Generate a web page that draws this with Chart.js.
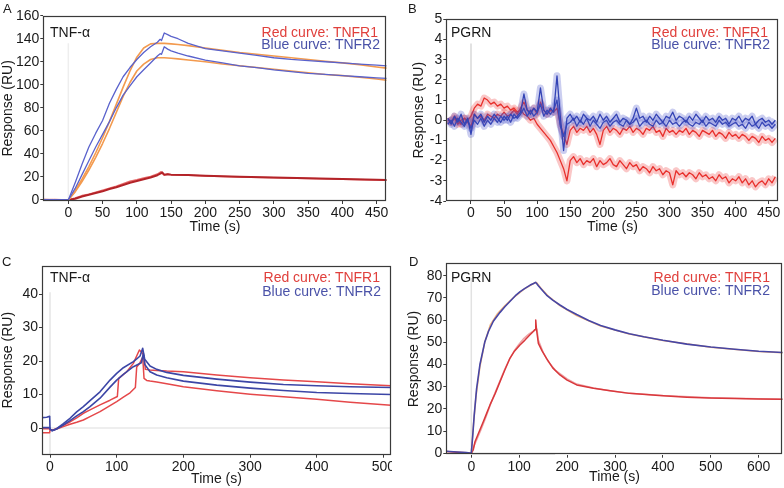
<!DOCTYPE html>
<html><head><meta charset="utf-8">
<script src="https://cdn.jsdelivr.net/npm/chart.js@4/dist/chart.umd.min.js"></script>
<style>
html,body{margin:0;padding:0;background:#fff;}
body{width:784px;height:488px;position:relative;overflow:hidden;font-family:"Liberation Sans",Arial,sans-serif;}
canvas{position:absolute;}
.t{position:absolute;font-size:14px;line-height:14px;white-space:nowrap;color:#1a1a1a;}
.lt{font-size:13px;}
.rr{text-align:right;}
.red{color:#e0403c;}
.blu{color:#4a52a8;}
</style></head><body>
<canvas id="cA" width="392" height="244" style="left:0;top:0"></canvas>
<canvas id="cB" width="392" height="244" style="left:392px;top:0"></canvas>
<canvas id="cC" width="392" height="244" style="left:0;top:244px"></canvas>
<canvas id="cD" width="392" height="244" style="left:392px;top:244px"></canvas>

<div class="t lt" style="left:3px;top:2px">A</div>
<div class="t lt" style="left:408px;top:2px">B</div>
<div class="t lt" style="left:2px;top:255px">C</div>
<div class="t lt" style="left:409px;top:255px">D</div>

<div class="t" style="left:50px;top:25px">TNF-α</div>
<div class="t" style="left:451px;top:25px">PGRN</div>
<div class="t" style="left:50px;top:270px">TNF-α</div>
<div class="t" style="left:451px;top:270px">PGRN</div>

<div class="t rr red" style="right:406px;top:25px">Red curve: TNFR1</div>
<div class="t rr blu" style="right:404px;top:37px">Blue curve: TNFR2</div>
<div class="t rr red" style="right:16px;top:25px">Red curve: TNFR1</div>
<div class="t rr blu" style="right:14px;top:37px">Blue curve: TNFR2</div>
<div class="t rr red" style="right:404px;top:270px">Red curve: TNFR1</div>
<div class="t rr blu" style="right:403px;top:284px">Blue curve: TNFR2</div>
<div class="t rr red" style="right:14px;top:270px">Red curve: TNFR1</div>
<div class="t rr blu" style="right:14px;top:283px">Blue curve: TNFR2</div>

<script>
// ---------- Panel A (TNF-α) ----------
const aXTicks = [0,50,100,150,200,250,300,350,400,450];
const aYTicks = [0,20,40,60,80,100,120,140,160];
const aBlueHi = [[-36.5,0],[-20,0.3],[-10,0],[0,0],[10,15],[20,31],[30,46],[40,58],[50,69],[60,84],[70,96],[80,107],[90,115],[100,122],[110,128],[120,133],[130,137],[134,139.5],[136,138.5],[140,145],[145,143.5],[150,142],[160,140],[175,136],[200,131.5],[225,129.5],[250,127.5],[275,125.5],[300,123.5],[325,122],[350,121],[375,120],[400,119],[425,118],[450,117],[464.6,116.5]];
const aBlueLo = [[-36.5,0],[-20,0],[-10,0.3],[0,0],[10,10],[20,22],[30,34],[40,46],[50,57],[60,68],[70,80],[80,91],[90,99],[100,107],[110,113],[120,119],[130,125],[134,127],[136,126.5],[140,133],[145,131],[150,129.5],[160,127.5],[175,125],[200,121.5],[225,119],[250,116.5],[275,115],[300,113],[325,111.5],[350,110],[375,109],[400,108],[425,107],[450,106],[464.6,105.5]];
const aOrangeHi = [[0,0],[10,8],[20,18],[30,29],[40,41],[50,54],[60,68],[70,83],[80,98],[90,112],[100,124],[110,132],[120,135.5],[130,136],[140,136],[150,135.5],[160,135],[175,134],[200,132],[225,130],[250,128],[275,126.5],[300,125],[325,123.5],[350,122],[375,120.5],[400,119],[425,117.5],[450,115.5],[464.6,114.5]];
const aOrangeLo = [[0,0],[10,7],[20,16],[30,26],[40,37],[50,49],[60,62],[70,76],[80,90],[90,102],[100,112],[110,118],[120,122],[130,123.5],[140,123.5],[150,123],[160,122.5],[175,121.5],[200,120],[225,118],[250,116.5],[275,115],[300,113.5],[325,112],[350,110.5],[375,109],[400,108],[425,106.5],[450,105],[464.6,104]];
const aRed1 = [[-36.5,0.2],[-20,0],[0,0],[10,1],[20,3],[30,4.5],[40,6],[50,7.5],[60,9.5],[70,11],[80,13],[90,15],[100,16.5],[110,18],[120,19.5],[130,21.5],[135,23],[137,24],[140,22],[145,22.3],[150,22],[175,21.6],[200,21],[250,20.2],[300,19.5],[350,18.8],[400,18.2],[450,17.6],[464.6,17.4]];
const aRed2 = [[-36.5,0],[-20,0.3],[0,0],[10,1.8],[20,3.8],[30,5],[40,6.8],[50,8.5],[60,10.2],[70,12],[80,14.2],[90,16.3],[100,17.5],[110,19],[120,20.5],[130,22.5],[135,24.5],[137,23],[140,21.5],[145,22.6],[150,21.8],[175,21.4],[200,20.8],[250,20],[300,19.3],[350,18.6],[400,18],[450,17.4],[464.6,17.2]];
const aInject = [[0,0],[0,136]];

// ---------- Panel B (PGRN) ----------
const bXTicks = [0,50,100,150,200,250,300,350,400,450];
const bYTicks = [-4,-3,-2,-1,0,1,2,3,4,5];
const bTime = [-35,-30,-25,-20,-15,-10,-5,0,5,10,
  15,20,25,30,35,40,45,50,55,60,
  65,70,75,80,85,90,95,100,105,110,
  115,120,125,130,135,140,145,150,155,160,
  165,170,175,180,185,190,195,200,205,210,
  215,220,225,230,235,240,245,250,255,260,
  265,270,275,280,285,290,295,300,305,310,
  315,320,325,330,335,340,345,350,355,360,
  365,370,375,380,385,390,395,400,405,410,
  415,420,425,430,435,440,445,450,455,460];
const bRed1 = [0.1,-0.1,0.2,0,-0.2,0.1,0,0.2,0.6,0.8,
  0.7,1.1,1.0,0.8,0.9,0.7,0.8,0.6,0.7,0.5,
  0.6,0.4,0.5,0.3,0.2,0.0,0.1,-0.2,-0.4,-0.6,
  -0.8,-1.0,-1.3,-1.6,-2.0,-2.4,-3.0,-2.0,-1.8,-2.1,
  -1.9,-2.2,-2.0,-2.1,-1.9,-2.3,-2.0,-2.2,-2.1,-1.9,
  -2.2,-2.3,-2.0,-2.2,-2.4,-2.1,-2.3,-2.2,-2.5,-2.3,
  -2.4,-2.6,-2.3,-2.5,-2.4,-2.7,-2.5,-2.6,-3.2,-2.5,
  -2.7,-2.6,-2.8,-2.6,-2.7,-2.9,-2.6,-2.8,-2.7,-2.9,
  -2.8,-3.0,-2.7,-2.9,-2.8,-3.1,-2.9,-3.0,-2.8,-3.1,
  -2.9,-3.2,-3.0,-3.3,-3.1,-3.0,-3.2,-2.9,-3.1,-2.8];
const bRed2 = [0,-0.1,0.1,-0.2,0,0.1,-0.1,-0.3,0.3,0.1,
  0.2,0.0,0.3,0.2,0.1,0.3,0.2,0.4,0.2,0.3,
  0.5,0.3,0.6,0.9,0.5,0.4,0.6,0.3,0.9,0.5,
  0.3,0.5,0.4,0.6,-0.2,-0.7,-1.2,-0.5,-0.3,-0.6,
  -0.4,-0.5,-0.3,-0.6,-0.4,-0.7,-1.2,-0.5,-0.3,-0.6,
  -0.4,-0.5,-0.7,-0.4,-0.5,-0.3,-0.6,-0.4,-0.5,-0.7,
  -0.4,-0.5,-0.3,-0.6,-0.5,-0.8,-0.4,-0.6,-0.5,-0.7,
  -0.5,-0.6,-0.4,-0.7,-0.5,-0.6,-0.8,-0.5,-0.6,-0.7,
  -0.5,-0.8,-0.6,-0.7,-0.9,-0.6,-0.8,-0.7,-0.9,-0.7,
  -0.8,-1.0,-0.8,-0.9,-1.1,-0.8,-1.0,-0.9,-1.1,-0.9];
const bBlue1 = [0.1,-0.2,0.2,-0.1,0.3,-0.2,0.1,-0.7,0.3,0.1,
  0.3,-0.1,0.2,0.0,0.3,0.1,-0.1,0.2,0.0,0.3,
  0.1,0.2,0.4,1.3,0.5,0.3,0.6,0.4,1.6,0.5,
  0.3,0.6,0.4,2.2,0.2,-1.5,0.1,0.3,0.0,0.2,
  -0.1,0.3,0.1,0.0,0.2,-0.1,0.3,0.0,0.2,-0.1,
  0.1,0.3,-0.1,0.1,0.0,-0.2,0.1,0.6,0.1,0.2,
  -0.1,0.2,0.0,0.3,0.1,-0.1,0.2,0.1,0.4,0.0,
  0.2,0.1,-0.1,0.2,0.0,0.3,0.1,-0.1,0.2,0.0,
  0.1,-0.1,0.2,0.0,0.1,-0.2,0.1,0.0,0.2,-0.1,
  0.1,0.0,0.2,-0.2,0.0,0.1,-0.1,0.0,-0.2,0.0];
const bBlue2 = [-0.2,0.0,-0.3,0.1,-0.1,-0.3,0.0,-0.4,0.0,-0.2,
  0.1,-0.3,0.0,-0.2,0.1,-0.1,0.2,0.0,0.2,-0.1,
  0.3,0.1,0.3,0.6,0.2,0.5,0.2,0.4,0.8,0.2,
  0.5,0.3,0.5,1.0,-0.3,-0.8,-0.2,-0.1,0.1,-0.3,
  0.0,-0.2,0.1,-0.3,0.0,-0.2,-0.4,-0.1,0.0,-0.3,
  -0.1,0.0,-0.2,-0.3,0.0,-0.2,-0.1,0.1,-0.3,-0.1,
  0.0,-0.2,-0.3,0.0,-0.2,-0.1,-0.3,0.0,-0.2,-0.1,
  -0.3,-0.1,0.0,-0.2,-0.3,-0.1,-0.2,0.0,-0.3,-0.1,
  -0.2,-0.3,0.0,-0.2,-0.1,-0.3,-0.2,-0.1,-0.3,-0.2,
  -0.4,-0.1,-0.3,-0.2,-0.4,-0.1,-0.3,-0.2,-0.4,-0.2];
const bInject = [[0,-4],[0,3.8]];

// ---------- Panel C (TNF-α) ----------
const cXTicks = [0,100,200,300,400,500];
const cYTicks = [0,10,20,30,40];
const cBlue1 = [[-12,3.1],[-5,3.2],[-0.5,3.5],[0,-0.3],[3,-0.8],[10,-0.2],[20,1.3],[30,2.9],[40,4.8],[50,6.4],[60,8.2],[75,10.8],[90,14.3],[100,16.3],[110,18],[125,19.8],[130,20.6],[135,21.5],[139,23.8],[142,20.5],[150,18.5],[160,17.5],[175,16.6],[200,15.7],[250,14.6],[300,13.7],[350,13],[400,12.6],[450,12.3],[511.3,12.1]];
const cBlue2 = [[-12,0.1],[-0.5,0.1],[0,-0.3],[3,-0.8],[10,-0.3],[20,0.9],[30,2.2],[40,3.6],[50,4.9],[60,6.4],[75,8.9],[90,12.2],[100,14.3],[110,16],[125,18.3],[137,19.5],[140,22.3],[142,19],[150,16.8],[160,15.8],[175,15],[200,14],[250,12.8],[300,11.9],[350,11.2],[400,10.6],[450,10.3],[511.3,10]];
const cRed1 = [[-12,-0.2],[-0.5,-0.2],[0,-0.5],[5,-0.6],[10,-0.1],[20,0.8],[30,1.8],[40,3],[50,4.4],[60,5.4],[75,6.9],[90,8.3],[101,9.4],[103,14.8],[115,16.8],[125,19.3],[134,23.3],[138,22.5],[141,21.5],[143,17.5],[150,17.3],[160,17.2],[175,17],[200,16.8],[250,15.8],[300,15],[350,14.3],[400,13.8],[450,13.2],[511.3,12.6]];
const cRed2 = [[-12,-1.4],[-0.5,-1.4],[0,-0.6],[5,-0.6],[10,-0.3],[20,0.4],[30,1.1],[40,1.7],[50,2.4],[60,3.4],[75,4.9],[90,6.7],[100,7.9],[110,9.2],[120,10.5],[128,12.1],[130,18.2],[135,19.5],[139,21.2],[141,14.8],[145,14.2],[150,14],[160,13.7],[175,13.2],[200,12.3],[250,11.1],[300,10.1],[350,9.3],[400,8.6],[450,7.7],[511.3,6.8]];
const cInject = [[0,-8],[0,40.5]];
const cBase = [[-12,0],[511.3,0]];

// ---------- Panel D (PGRN) ----------
const dXTicks = [0,100,200,300,400,500,600];
const dYTicks = [0,10,20,30,40,50,60,70,80];
const dBlue = [[-52,0.9],[-30,0.6],[-10,0.3],[0,0],[3,8],[6,17],[11,29],[18,40],[28,50],[36,55],[46,59.5],[60,63.5],[70,66],[81,68.5],[92,71],[102,72.8],[112,74.3],[123,75.8],[130,76.5],[134,77],[136,76.6],[140,75.5],[150,73],[157,71.3],[170,69],[185,66.8],[200,64.8],[220,62.5],[245,59.8],[270,57.6],[300,55.6],[330,53.9],[360,52.5],[400,50.9],[450,49.2],[500,47.9],[550,46.9],[600,46],[650.1,45.4]];
const dOrange = [[0,0],[5,14],[10,26],[18,39],[28,50],[40,58],[55,63],[70,66.5],[90,70.5],[110,74],[130,76.5],[136,77],[145,74.5],[160,71],[185,66.5],[220,62],[270,57.3],[330,53.7],[400,50.8],[500,47.8],[600,45.9],[650.1,45.3]];
const dRed = [[-52,0.8],[-30,0.5],[-10,0.2],[0,0],[4,1.5],[7.7,5.2],[15,9],[25,14.2],[32,18],[39,21.8],[50,27],[60,32.3],[70,37.5],[80.6,42.8],[90,46],[101.5,48.8],[112,51],[122,53.3],[130,55],[133,55.8],[134.5,60],[136,56],[140,49.5],[148,46],[157,42.8],[170,38.5],[185,35.3],[200,33],[220,30.8],[255,29.3],[290,28.2],[330,27],[392,26],[450,25.3],[497,24.9],[550,24.7],[600,24.5],[650.1,24.3]];
const dRedFit = [[0,0],[5,3],[10,5.5],[20,10.5],[30,16],[40,22],[50,27.5],[60,32.8],[70,38],[80,42.5],[90,46.3],[100,49.3],[110,51.8],[120,53.7],[130,55.2],[137,56],[140,51],[150,45.5],[160,41.5],[175,37.5],[200,33.5],[220,31.2],[255,29.4],[290,28.2],[330,27.1],[400,26],[500,25],[650.1,24.4]];
const dInject = [[0,-0.7],[0,79]];
const dBase = [[0,-0.4],[175,-0.4]];

// ---------- helpers ----------
const FAM = '"Liberation Sans", Arial, sans-serif';
const pts = a => a.map(([x, y]) => ({x, y}));
const zip = (t, v) => t.map((x, i) => ({x, y: v[i]}));
function line(data, color, width) {
  return {data, borderColor: color, borderWidth: width, pointRadius: 0, fill: false, tension: 0, borderJoinStyle: 'round'};
}
const framePlugin = {
  id: 'frame',
  afterDraw(ch) {
    const a = ch.chartArea, ctx = ch.ctx;
    ctx.save();
    ctx.strokeStyle = '#3a3a3a';
    ctx.lineWidth = 1.2;
    ctx.strokeRect(Math.round(a.left) + 0.5, Math.round(a.top) + 0.5, Math.round(a.right - a.left) - 1, Math.round(a.bottom - a.top) - 1);
    ctx.restore();
  }
};
function axis(min, max, ticks, title, fitFn) {
  return {
    type: 'linear', min, max,
    afterBuildTicks: s => { s.ticks = ticks.map(v => ({value: v})); },
    afterFit: fitFn,
    ticks: {font: {family: FAM, size: 14}, color: '#1a1a1a', padding: 1, maxRotation: 0, autoSkip: false, callback: v => String(v)},
    grid: {display: true, drawOnChartArea: false, drawTicks: true, tickLength: 3, color: '#3a3a3a', lineWidth: 1},
    border: {display: false},
    title: {display: true, text: title, font: {family: FAM, size: 14}, color: '#1a1a1a', padding: 0}
  };
}
function make(id, o) {
  const W = 392, H = 244;
  const yW = o.L - o.padLeft;
  const xH = (H - o.padBottom) - o.B;
  return new Chart(document.getElementById(id), {
    type: 'line',
    data: {datasets: o.datasets},
    options: {
      responsive: false, animation: false, devicePixelRatio: 1,
      layout: {padding: {left: o.padLeft, top: o.T, right: W - o.R, bottom: o.padBottom}},
      plugins: {legend: {display: false}, tooltip: {enabled: false}},
      scales: {
        x: axis(o.xmin, o.xmax, o.xticks, 'Time (s)', s => { s.height = xH; s.paddingLeft = 0; s.paddingRight = 0; }),
        y: axis(o.ymin, o.ymax, o.yticks, 'Response (RU)', s => { s.width = yW; s.paddingTop = 0; s.paddingBottom = 0; })
      }
    },
    plugins: [framePlugin]
  });
}

// ---------- build ----------
make('cA', {L: 43.3, T: 15.7, R: 386.7, B: 201, padLeft: 0, padBottom: 8.6,
  xmin: -36.5, xmax: 464.6, ymin: -0.9, ymax: 160, xticks: aXTicks, yticks: aYTicks,
  datasets: [
    line(pts(aBlueHi), '#5a62cc', 1.3),
    line(pts(aBlueLo), '#5a62cc', 1.3),
    line(pts(aOrangeHi), '#f39a4e', 1.6),
    line(pts(aOrangeLo), '#f39a4e', 1.6),
    line(pts(aRed1), '#b32328', 2),
    line(pts(aRed2), '#e86a6a', 1.5),
    line(pts(aInject), '#eeeeee', 1.5)
  ]});

make('cB', {L: 54.3, T: 19.3, R: 386.7, B: 201, padLeft: 18.6, padBottom: 8.6,
  xmin: -37.3, xmax: 465.1, ymin: -4, ymax: 5, xticks: bXTicks, yticks: bYTicks,
  datasets: [
    line(zip(bTime, bBlue1), '#3343b5', 1.3),
    line(zip(bTime, bBlue2), '#3a48b8', 1.3),
    line(zip(bTime, bBlue1), 'rgba(70,80,200,0.28)', 7),
    line(zip(bTime, bBlue2), 'rgba(70,80,200,0.28)', 7),
    line(zip(bTime, bRed2), '#e8302c', 1.3),
    line(zip(bTime, bRed1), '#e8302c', 1.3),
    line(zip(bTime, bRed2), 'rgba(240,70,70,0.3)', 7),
    line(zip(bTime, bRed1), 'rgba(240,70,70,0.3)', 7),
    line(pts(bInject), '#e2e2e2', 2)
  ]});

make('cC', {L: 42, T: 21.7, R: 391, B: 210.7, padLeft: 0, padBottom: 0.6,
  xmin: -12, xmax: 511.3, ymin: -7.97, ymax: 48.45, xticks: cXTicks, yticks: cYTicks,
  datasets: [
    line(pts(cBlue1), '#3c46a6', 1.6),
    line(pts(cBlue2), '#3c46a6', 1.6),
    line(pts(cRed1), '#e5484a', 1.5),
    line(pts(cRed2), '#e5484a', 1.5),
    line(pts(cInject), '#e4e4e4', 1.5),
    line(pts(cBase), '#e8e8e8', 1.5)
  ]});

make('cD', {L: 54.3, T: 19.3, R: 390.7, B: 210.7, padLeft: 13.6, padBottom: 2.3,
  xmin: -52.2, xmax: 650.1, ymin: -0.63, ymax: 85.6, xticks: dXTicks, yticks: dYTicks,
  datasets: [
    line(pts(dBlue), '#4646a6', 1.6),
    line(pts(dOrange), '#f2b27a', 1.5),
    line(pts(dRed), '#d9383c', 1.5),
    line(pts(dRedFit), '#eda3a6', 1.5),
    line(pts(dInject), '#e2e2e2', 1.5),
    line(pts(dBase), '#dddddd', 2)
  ]});
</script>
</body></html>
